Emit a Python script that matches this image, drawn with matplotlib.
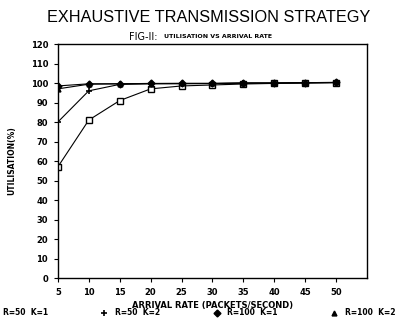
import matplotlib
matplotlib.use('Agg')
import matplotlib.pyplot as plt

# arrival rate (packets/second)
rate = [5, 10, 15, 20, 25, 30, 35, 40, 45, 50]

# utilisation (%)
r50_k1 = [57, 81, 91, 97, 98.5, 99, 99.5, 99.8, 100, 100.2]
r50_k2 = [80, 96, 99.3, 99.6, 99.6, 99.7, 99.9, 100, 100.1, 100.2]
r100_k1 = [98.5, 99.6, 99.6, 99.8, 99.8, 99.8, 100, 100, 100.2, 100.3]
r100_k2 = [97, 99.4, 99.6, 99.7, 99.8, 99.8, 100, 100, 100.2, 100.3]

labels = ['R=50  K=1', 'R=50  K=2', 'R=100  K=1', 'R=100  K=2']
markers = ['s', '+', 'D', '^']

xticks = [5, 10, 15, 20, 25, 30, 35, 40, 45, 50]
yticks = list(range(0, 121, 10))

fig = plt.figure(figsize=(3.99, 3.26), dpi=100)
ax = fig.add_axes([0.145, 0.147, 0.775, 0.718])

series = [r50_k1, r50_k2, r100_k1, r100_k2]
handles = []
for ys, m, lab in zip(series, markers, labels):
    if m == 's':
        kw = dict(mfc='white', mec='black', ms=4, mew=1.0)
    elif m == '+':
        kw = dict(mec='black', ms=5, mew=1.2)
    else:
        kw = dict(mfc='black', mec='black', ms=3.5)
    ax.plot(rate, ys, color='black', lw=0.8, marker=m, **kw)
    h, = ax.plot([], [], ls='none', color='black', marker=m, **kw)
    handles.append(h)

ax.set_xlim(5, 55)
ax.set_ylim(0, 120)
ax.set_xticks(xticks)
ax.set_yticks(yticks)
ax.tick_params(direction='out', length=3, width=0.8, labelsize=6, pad=4)
for lab in ax.get_xticklabels() + ax.get_yticklabels():
    lab.set_fontweight('bold')
for s in ax.spines.values():
    s.set_linewidth(1.0)

ax.set_ylabel('UTILISATION(%)', fontsize=5.5, fontweight='bold', labelpad=10)
ax.set_xlabel('ARRIVAL RATE (PACKETS/SECOND)', fontsize=6, fontweight='bold', labelpad=3)

fig.text(0.524, 0.945, 'EXHAUSTIVE TRANSMISSION STRATEGY', ha='center', va='center',
         fontsize=11.7, family='Liberation Sans')
fig.text(0.36, 0.885, 'FIG-II:', ha='center', va='center', fontsize=7)
fig.text(0.41, 0.888, 'UTILISATION VS ARRIVAL RATE', ha='left', va='center',
         fontsize=4.5, fontweight='bold')

fig.legend(handles, labels, ncol=4, loc='center left', bbox_to_anchor=(-0.045, 0.04),
           frameon=False, handlelength=0.8, handletextpad=1.0,
           columnspacing=7.0, prop={'weight': 'bold', 'size': 5.5})

fig.savefig('out.png', dpi=100)
